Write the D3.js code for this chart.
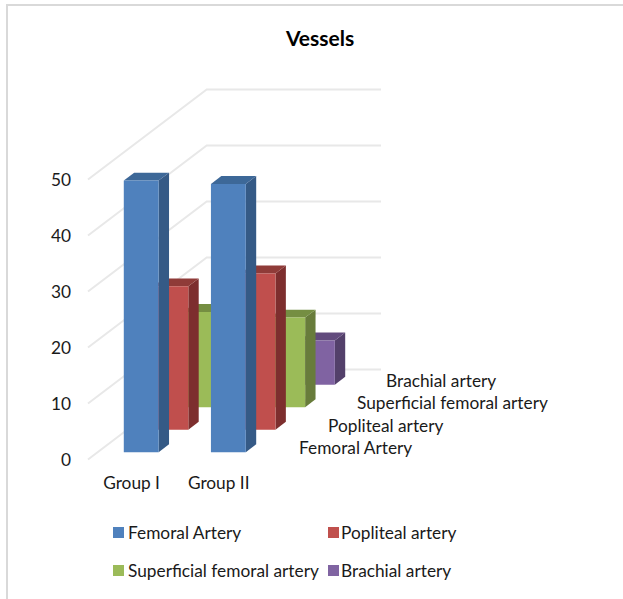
<!DOCTYPE html>
<html>
<head>
<meta charset="utf-8">
<script src="https://cdn.jsdelivr.net/npm/d3@7"></script>
<style>
html,body{margin:0;padding:0;background:#fff;}
svg{display:block;}
text{font-family:Lato,"Open Sans",sans-serif;fill:#1a1a1a;}
</style>
</head>
<body>
<div id="chart"></div>
<script>
const groups = ["Group I", "Group II"];
const seriesNames = ["Femoral Artery", "Popliteal artery", "Superficial femoral artery", "Brachial artery"];
const femoral = [48.5, 47.9];
const popliteal = [25.6, 27.9];
const superficial = [17, 16];
const brachial = [7.9, 7.9];
const yTicks = [0, 10, 20, 30, 40, 50];
const frontColors = ["#4f81bd", "#c0504d", "#9bbb59", "#8064a2"];
const sideColors = ["#355a86", "#7d2f2d", "#677c3a", "#533f6b"];
const topColors = ["#3e6798", "#8f3b38", "#758e43", "#624b7d"];
const values = [femoral, popliteal, superficial, brachial];

const W = 623, H = 599;
const svg = d3.select("#chart").append("svg").attr("width", W).attr("height", H);

const defs = svg.append("defs");
defs.append("filter").attr("id", "soft").append("feGaussianBlur").attr("stdDeviation", 0.5);

// frame
svg.append("path").attr("d", `M7,${H}V5H${W}`).attr("fill", "none").attr("stroke", "#d9d9d9").attr("stroke-width", 2);

// title
svg.append("text").attr("x", 320).attr("y", 46).attr("text-anchor", "middle")
  .style("font-size", "21px").style("font-weight", 700).style("fill", "#000").text("Vessels");

// scales
const floorY = 459.5, depthH = 90, depthRatio = 118.7 / 90;
const x = d3.scaleBand().domain(groups).range([88, 262.3]).paddingInner(0.6).paddingOuter(0.3);
const y = d3.scaleLinear().domain([0, 50]).range([0, 280]);
const z = d3.scaleBand().domain(seriesNames).range([0, depthH]).paddingInner(0.65).paddingOuter(0.325);
const project = (px, v, d) => [px + d * depthRatio, floorY - y(v) - d];
const poly = pts => "M" + pts.map(p => p.join(",")).join("L") + "Z";

const plot = svg.append("g").attr("filter", "url(#soft)");

// grid: side wall + back wall
plot.append("g").selectAll("path").data(yTicks).join("path")
  .attr("d", v => {
    const a = project(88, v, 0), b = project(88, v, depthH), c = project(262.3, v, depthH);
    return `M${a}L${b}L${c}`;
  })
  .attr("fill", "none").attr("stroke", "#e8e8e8").attr("stroke-width", 2);

// bars, back to front
const order = d3.range(seriesNames.length).reverse();
order.forEach(si => {
  const name = seriesNames[si];
  const d0 = z(name), d1 = d0 + z.bandwidth();
  groups.forEach((g, gi) => {
    const x0 = x(g), x1 = x0 + x.bandwidth(), v = values[si][gi];
    const bar = plot.append("g");
    bar.append("path").attr("fill", sideColors[si]).attr("d", poly([
      project(x1, 0, d0), project(x1, v, d0), project(x1, v, d1), project(x1, 0, d1)]));
    bar.append("path").attr("fill", topColors[si]).attr("d", poly([
      project(x0, v, d0), project(x1, v, d0), project(x1, v, d1), project(x0, v, d1)]));
    bar.append("path").attr("fill", frontColors[si]).attr("d", poly([
      project(x0, 0, d0), project(x1, 0, d0), project(x1, v, d0), project(x0, v, d0)]));
  });
});

const fs = "17.3px";
// value axis
svg.append("g").selectAll("text").data(yTicks).join("text")
  .attr("x", 71).attr("y", v => floorY - y(v) + 6.5).attr("text-anchor", "end")
  .style("font-size", fs).text(d => d);

// category labels
svg.append("g").selectAll("text").data(groups).join("text")
  .attr("x", g => x(g) + x.bandwidth() / 2).attr("y", 489)
  .attr("text-anchor", "middle").style("font-size", fs).text(d => d);

// depth labels
svg.append("g").selectAll("text").data(seriesNames).join("text")
  .attr("x", (n, i) => 299 + i * 29)
  .attr("y", (n, i) => 454 - i * 22.4)
  .style("font-size", fs).text(d => d);

// legend
const legendX = [113, 328], legendY = [533, 571];
const legend = svg.append("g").selectAll("g").data(seriesNames).join("g")
  .attr("transform", (n, i) => `translate(${legendX[i % 2]},${legendY[Math.floor(i / 2)]})`);
legend.append("rect").attr("x", 0).attr("y", -6).attr("width", 11).attr("height", 11)
  .attr("fill", (n, i) => frontColors[i]);
legend.append("text").attr("x", (n, i) => i % 2 ? 13 : 15).attr("y", 6)
  .style("font-size", fs).text(d => d);
</script>
</body>
</html>
